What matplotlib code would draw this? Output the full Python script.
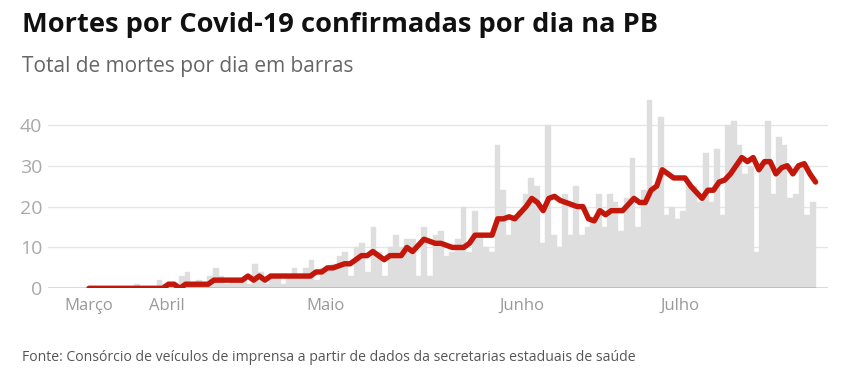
import numpy as np
import matplotlib
matplotlib.use("Agg")
import matplotlib.pyplot as plt

# ---- data ----
daily_deaths = [
    0, 0, 0, 0, 0, 0, 0, 0, 1, 0,
    0, 0, 2, 1, 0, 1, 3, 4, 1, 2,
    1, 3, 5, 3, 1, 2, 2, 2, 1, 6,
    4, 1, 3, 3, 1, 3, 5, 3, 5, 7,
    2, 5, 5, 6, 8, 9, 3, 10, 11, 4,
    15, 9, 3, 10, 13, 10, 12, 12, 3, 15,
    3, 13, 14, 8, 9, 12, 20, 9, 19, 13,
    10, 9, 35, 24, 13, 18, 19, 23, 27, 25,
    11, 40, 13, 10, 23, 13, 25, 13, 15, 17,
    23, 15, 23, 21, 14, 22, 32, 15, 24, 46,
    24, 42, 18, 20, 17, 19, 26, 25, 21, 33,
    21, 34, 18, 40, 41, 35, 28, 30, 9, 31,
    41, 23, 37, 35, 22, 23, 30, 18, 21,
]

moving_avg = [
    0, 0, 0, 0, 0, 0, 0, 0, 0, 0,
    0, 0, 0, 0, 1, 1, 0, 1, 1, 1,
    1, 1, 2, 2, 2, 2, 2, 2, 3, 2,
    3, 2, 3, 3, 3, 3, 3, 3, 3, 3,
    4, 4, 5, 5, 5.5, 6, 6, 7, 8, 8,
    9, 8, 7, 8, 8, 8, 10, 9, 10.5, 12,
    11.5, 11, 11, 10.5, 10, 10, 10, 11, 13, 13,
    13, 13, 17, 17, 17.5, 17, 18.5, 20, 22, 21,
    19, 22, 22.5, 21.5, 21, 20.5, 20, 20, 17, 16.5,
    19, 18, 19, 19, 19, 20.5, 22, 21, 21, 24,
    25, 29, 28, 27, 27, 27, 25, 23.5, 22, 24,
    24, 26, 26.5, 28, 30, 32, 31, 32, 29, 31,
    31, 28, 29.5, 30, 28, 30, 30.5, 28, 26,
]

month_labels = ["Março", "Abril", "Maio", "Junho", "Julho"]
y_ticks = [0, 10, 20, 30, 40]

title = "Mortes por Covid-19 confirmadas por dia na PB"
subtitle = "Total de mortes por dia em barras"
source = "Fonte: Consórcio de veículos de imprensa a partir de dados da secretarias estaduais de saúde"

# ---- figure ----
W, H = 852, 385
fig = plt.figure(figsize=(W / 100, H / 100), dpi=100)
plt.rcParams["font.family"] = ["Open Sans", "DejaVu Sans"]

ax_left, ax_right = 48, 828
ax_top, ax_bottom = 95, 288.3
ax = fig.add_axes([ax_left / W, 1 - ax_bottom / H,
                   (ax_right - ax_left) / W, (ax_bottom - ax_top) / H])

n = len(daily_deaths)
xb = np.arange(n)
ax.bar(xb, daily_deaths, width=1.0, color="#dedede", edgecolor="#dedede",
       linewidth=0.3, zorder=2)

xl = np.linspace(-0.5, n - 0.5, len(moving_avg))
ax.plot(xl, moving_avg, color="#c4170c", linewidth=3.9,
        solid_capstyle="round", solid_joinstyle="round", zorder=4)

ax.set_xlim(-7.78, 130.7)
ax.set_ylim(0, 47.3)

for v in y_ticks[1:]:
    ax.axhline(v, color="#e6e6e6", linewidth=1.0, zorder=1)
ax.axhline(0, color="#444444", linewidth=1.0, zorder=5)

for s in ax.spines.values():
    s.set_visible(False)

ax.set_yticks(y_ticks)
ax.set_yticklabels([str(v) for v in y_ticks])
ax.tick_params(axis="y", length=0, pad=4, labelsize=14, labelcolor="#aaaaaa")

tick_pos = [-0.6, 13.3, 41.4, 76.3, 104.4]
ax.set_xticks(tick_pos)
ax.set_xticklabels(month_labels)
ax.tick_params(axis="x", length=0, pad=7, labelsize=12, labelcolor="#999999")

fig.text(22 / W, 1 - 32 / H, title, fontsize=19.6, fontweight="bold",
         color="#111111", va="baseline", ha="left")
fig.text(22 / W, 1 - 72 / H, subtitle, fontsize=15, color="#666666",
         va="baseline", ha="left")
fig.text(22 / W, 1 - 361 / H, source, fontsize=10.1, color="#555555",
         va="baseline", ha="left")

fig.savefig("out.png", dpi=100)
